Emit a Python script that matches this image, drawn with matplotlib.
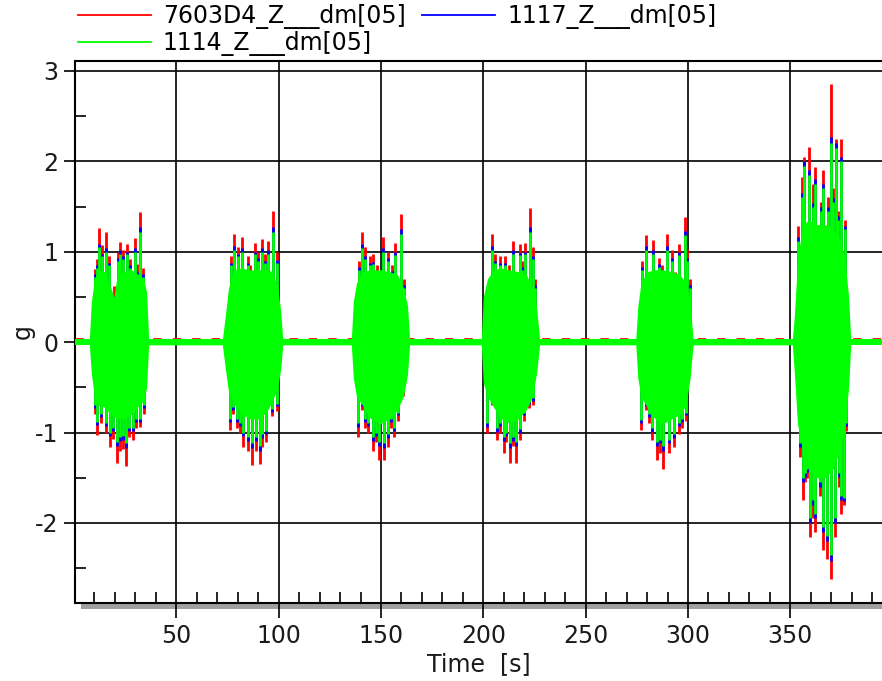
import matplotlib
matplotlib.use('Agg')
import matplotlib.pyplot as plt
from matplotlib.lines import Line2D
from matplotlib.patches import Rectangle
from matplotlib.ticker import MultipleLocator

matplotlib.rcParams['font.family'] = 'DejaVu Sans'
matplotlib.rcParams['axes.unicode_minus'] = False

labels = ['7603D4_Z___dm[05]', '1117_Z___dm[05]', '1114_Z___dm[05]']
colors = ['#ff0000', '#0000ff', '#00ff00']

# quiet part between the bursts (small noise around zero)
quiet_t = [0.5, 395.0]
quiet_amp = 0.03

# dense body of each burst (envelope of the green trace)
body_t = [7.5, 8.5, 10, 12, 15, 18, 19.5, 21, 24, 28, 31, 34, 35.5, 36.5,
          72.5, 74, 75.5, 78, 82, 86, 90, 94, 97, 99.5, 101, 102,
          135.5, 136.5, 138, 141, 145, 150, 154, 158, 161, 163, 164,
          199, 200, 202, 205, 209, 213, 217, 221, 224, 226, 227.5,
          274.5, 275.5, 277, 280, 284, 288, 292, 296, 299, 301, 302.5,
          351, 352, 353.5, 356, 359, 363, 367, 371, 374, 376.5, 378.5, 379.5]
body_hi = [0.03, 0.45, 0.7, 0.8, 0.78, 0.6, 0.5, 0.72, 0.78, 0.8, 0.75, 0.7, 0.55, 0.03,
           0.03, 0.3, 0.6, 0.8, 0.82, 0.8, 0.8, 0.8, 0.78, 0.6, 0.35, 0.03,
           0.03, 0.45, 0.65, 0.78, 0.8, 0.8, 0.78, 0.75, 0.6, 0.4, 0.03,
           0.03, 0.5, 0.7, 0.8, 0.82, 0.8, 0.78, 0.75, 0.6, 0.4, 0.03,
           0.03, 0.4, 0.65, 0.78, 0.8, 0.8, 0.78, 0.75, 0.65, 0.45, 0.03,
           0.03, 0.3, 0.9, 1.3, 1.35, 1.3, 1.3, 1.25, 1.15, 0.95, 0.5, 0.03]
body_lo = [-0.03, -0.35, -0.6, -0.7, -0.72, -0.8, -0.82, -0.85, -0.85, -0.8, -0.72, -0.65, -0.5, -0.03,
           -0.03, -0.3, -0.55, -0.68, -0.8, -0.85, -0.85, -0.78, -0.65, -0.5, -0.3, -0.03,
           -0.03, -0.4, -0.6, -0.7, -0.85, -0.9, -0.85, -0.75, -0.6, -0.35, -0.03,
           -0.03, -0.45, -0.6, -0.72, -0.85, -0.9, -0.85, -0.75, -0.6, -0.35, -0.03,
           -0.03, -0.4, -0.6, -0.72, -0.85, -0.9, -0.85, -0.8, -0.7, -0.4, -0.03,
           -0.03, -0.35, -0.9, -1.2, -1.4, -1.5, -1.5, -1.4, -1.2, -0.95, -0.5, -0.03]

# positive peaks of the three channels
up_t = [10.3, 11.1, 12.4, 13.5, 15.7, 17.0, 19.6, 21.5, 22.6, 24.1, 26.1, 27.5, 29.6, 31.0, 32.4, 33.8,
        76.5, 78.3, 80.0, 82.0, 85.0, 86.0, 88.6, 90.0, 92.1, 93.5, 95.0, 97.2, 99.3,
        139.1, 140.7, 142.3, 144.5, 146.3, 148.2, 150.9, 153.6, 155.2, 157.0, 159.8, 161.4,
        204.2, 205.8, 208.3, 210.7, 212.4, 214.5, 217.8, 219.0, 220.5, 222.9, 224.2, 225.4,
        277.5, 279.5, 282.8, 285.7, 287.3, 289.7, 292.2, 293.8, 295.8, 298.4, 299.5, 301.0,
        353.8, 355.6, 356.8, 358.9, 361.0, 362.2, 365.0, 366.2, 368.5, 369.7, 371.0, 372.5, 373.2, 374.9, 376.9]
up_red = [0.81, 0.92, 1.26, 1.07, 1.22, 0.95, 0.62, 1.0, 1.11, 1.02, 1.09, 0.92, 1.15, 0.86, 1.44, 0.82,
          0.95, 1.2, 1.05, 1.16, 0.95, 0.85, 1.1, 1.0, 1.14, 0.97, 1.12, 1.45, 1.0,
          0.9, 1.22, 1.05, 0.95, 0.98, 0.85, 1.16, 1.0, 0.85, 1.1, 1.42, 0.7,
          1.2, 0.98, 0.95, 0.95, 0.85, 1.12, 1.08, 0.9, 1.1, 1.48, 1.05, 0.7,
          0.9, 1.18, 1.13, 0.93, 0.85, 1.2, 1.02, 0.78, 1.08, 1.38, 1.03, 0.7,
          1.28, 1.83, 2.05, 2.16, 1.75, 1.94, 1.55, 1.9, 1.6, 2.86, 1.7, 2.25, 1.45, 2.25, 1.35]
up_blue = [0.75, 0.85, 1.09, 0.98, 1.04, 0.88, 0.51, 0.93, 1.02, 0.95, 1.0, 0.85, 1.04, 0.78, 1.27, 0.75,
           0.88, 1.06, 0.98, 1.04, 0.88, 0.78, 1.0, 0.93, 1.04, 0.9, 1.02, 1.27, 0.91,
           0.83, 1.08, 0.95, 0.88, 0.89, 0.78, 1.04, 0.93, 0.79, 1.0, 1.25, 0.63,
           1.06, 0.9, 0.88, 0.88, 0.79, 1.02, 0.99, 0.83, 1.0, 1.27, 0.95, 0.63,
           0.83, 1.06, 1.02, 0.86, 0.79, 1.06, 0.93, 0.73, 1.0, 1.23, 0.93, 0.63,
           1.16, 1.65, 2.0, 1.9, 1.54, 1.8, 1.49, 1.75, 1.49, 2.27, 1.59, 2.2, 1.39, 2.05, 1.29]
up_green = [0.72, 0.82, 1.05, 0.95, 1.0, 0.85, 0.48, 0.9, 0.98, 0.92, 0.97, 0.82, 1.0, 0.75, 1.22, 0.72,
            0.85, 1.02, 0.95, 1.0, 0.85, 0.75, 0.97, 0.9, 1.0, 0.87, 0.98, 1.22, 0.88,
            0.8, 1.04, 0.92, 0.85, 0.86, 0.75, 1.0, 0.9, 0.76, 0.96, 1.2, 0.6,
            1.02, 0.87, 0.85, 0.85, 0.76, 0.98, 0.96, 0.8, 0.97, 1.22, 0.92, 0.6,
            0.8, 1.02, 0.98, 0.83, 0.76, 1.02, 0.9, 0.7, 0.96, 1.18, 0.9, 0.6,
            1.12, 1.6, 1.95, 1.85, 1.5, 1.75, 1.45, 1.7, 1.45, 2.2, 1.55, 2.15, 1.35, 2.0, 1.25]

# negative peaks of the three channels
dn_t = [10.3, 11.1, 13.0, 15.8, 17.7, 19.3, 20.9, 22.5, 23.8, 25.5, 27.0, 28.7, 30.5, 32.4, 34.0,
        76.4, 77.9, 79.5, 81.1, 82.8, 84.8, 86.9, 88.8, 90.7, 92.0, 93.8, 96.6, 99.0,
        139.0, 140.6, 142.2, 143.8, 146.3, 147.7, 149.2, 151.5, 153.4, 155.0, 156.5, 158.2, 160.6,
        201.7, 204.2, 206.7, 208.3, 209.9, 211.3, 212.8, 214.5, 216.1, 218.0, 219.7, 222.1, 224.2,
        277.2, 279.5, 280.8, 282.4, 284.8, 286.4, 288.0, 290.5, 293.4, 295.4, 297.0, 299.0,
        354.5, 356.2, 357.0, 358.2, 359.8, 361.0, 362.2, 364.6, 366.2, 367.8, 369.7, 372.0, 373.6, 375.0, 376.1, 377.4]
dn_red = [-0.79, -1.03, -0.9, -1.0, -1.16, -1.07, -1.34, -1.2, -1.18, -1.37, -1.05, -1.08, -0.95, -0.94, -0.8,
          -0.97, -0.8, -0.95, -1.0, -1.16, -1.2, -1.36, -1.2, -1.35, -1.16, -1.1, -0.82, -0.76,
          -1.05, -0.75, -0.95, -1.0, -1.2, -1.1, -1.3, -1.3, -1.16, -0.95, -1.05, -0.87, -0.6,
          -1.01, -0.7, -1.08, -1.0, -1.23, -1.1, -1.34, -1.15, -1.34, -1.08, -0.87, -0.73, -0.7,
          -0.97, -0.75, -0.9, -1.08, -1.3, -1.23, -1.4, -1.23, -1.16, -1.02, -0.95, -0.87,
          -1.27, -1.75, -1.55, -1.5, -2.16, -1.95, -2.1, -1.7, -2.3, -2.4, -2.62, -2.16, -1.6, -1.9, -1.8, -0.98]
dn_blue = [-0.73, -0.92, -0.83, -0.93, -1.04, -0.98, -1.15, -1.09, -1.08, -1.17, -0.98, -0.98, -0.88, -0.88, -0.73,
           -0.88, -0.75, -0.88, -0.93, -1.04, -1.09, -1.17, -1.09, -1.2, -1.06, -1.02, -0.77, -0.71,
           -0.94, -0.71, -0.88, -0.93, -1.09, -1.04, -1.15, -1.17, -1.06, -0.88, -0.98, -0.81, -0.53,
           -0.94, -0.65, -0.99, -0.93, -1.09, -1.04, -1.17, -1.09, -1.15, -1.0, -0.81, -0.69, -0.65,
           -0.89, -0.71, -0.83, -0.99, -1.15, -1.12, -1.2, -1.12, -1.06, -0.93, -0.88, -0.81,
           -1.16, -1.55, -1.49, -1.44, -2.0, -1.8, -1.95, -1.6, -2.1, -2.2, -2.42, -2.0, -1.49, -1.75, -1.76, -0.93]
dn_green = [-0.7, -0.88, -0.8, -0.9, -1.0, -0.95, -1.1, -1.05, -1.04, -1.12, -0.95, -0.95, -0.85, -0.85, -0.7,
            -0.85, -0.72, -0.85, -0.9, -1.0, -1.05, -1.12, -1.05, -1.15, -1.02, -0.98, -0.74, -0.68,
            -0.9, -0.68, -0.85, -0.9, -1.05, -1.0, -1.1, -1.12, -1.02, -0.85, -0.95, -0.78, -0.5,
            -0.9, -0.62, -0.95, -0.9, -1.05, -1.0, -1.12, -1.05, -1.1, -0.96, -0.78, -0.66, -0.62,
            -0.86, -0.68, -0.8, -0.95, -1.1, -1.08, -1.15, -1.08, -1.02, -0.9, -0.85, -0.78,
            -1.12, -1.5, -1.45, -1.4, -1.95, -1.75, -1.9, -1.55, -2.05, -2.15, -2.35, -1.95, -1.45, -1.7, -1.72, -0.9]

fig = plt.figure(figsize=(8.82, 6.81), dpi=100)
ax = fig.add_axes([75 / 882, 1 - 603 / 681, 1 - 75 / 882, (603 - 61) / 681])

# baseline noise
ax.plot(quiet_t, [quiet_amp + 0.01] * 2, color=colors[0], lw=2, ls=(0, (3, 4)), zorder=2)
ax.fill_between(quiet_t, [-quiet_amp] * 2, [quiet_amp] * 2, color=colors[2], lw=0, zorder=3)

# peaks: red under blue under green
ax.vlines(up_t, 0, up_red, colors=colors[0], lw=2, zorder=2)
ax.vlines(dn_t, dn_red, 0, colors=colors[0], lw=2, zorder=2)
ax.vlines(up_t, 0, up_blue, colors=colors[1], lw=2, zorder=2.5)
ax.vlines(dn_t, dn_blue, 0, colors=colors[1], lw=2, zorder=2.5)
ax.vlines(up_t, 0, up_green, colors=colors[2], lw=2, zorder=3)
ax.vlines(dn_t, dn_green, 0, colors=colors[2], lw=2, zorder=3)
ax.fill_between(body_t, body_lo, body_hi, color=colors[2], lw=0, zorder=3)

ax.set_xlim(0.5, 394.8)
ax.set_ylim(-2.886, 3.11)
ax.xaxis.set_major_locator(MultipleLocator(50))
ax.xaxis.set_minor_locator(MultipleLocator(10))
ax.yaxis.set_major_locator(MultipleLocator(1))
ax.yaxis.set_minor_locator(MultipleLocator(0.5))
ax.grid(True, which='major', color='black', lw=1.2, zorder=1)
ax.set_axisbelow(True)

ax.tick_params(which='major', direction='out', width=1.2, labelsize=17, colors='black', labelcolor='#1a1a1a')
ax.tick_params(axis='x', which='major', length=11, pad=4)
ax.tick_params(axis='y', which='major', length=8, pad=4)
ax.tick_params(which='minor', direction='in', width=1.2, length=8)
for s in ['left', 'bottom', 'top']:
    ax.spines[s].set_linewidth(1.5)
ax.spines['right'].set_visible(False)

ax.set_xlabel('Time  [s]', fontsize=17, color='#1a1a1a', labelpad=3)
ax.set_ylabel('g', fontsize=17, color='#1a1a1a', labelpad=0)

# shadow under the x axis
fig.add_artist(Rectangle((81 / 882, 1 - 609 / 681), 1, 5 / 681, transform=fig.transFigure,
                         color='#a0a0a0', lw=0, zorder=0))

handles = [Line2D([], [], color=colors[0], lw=1.3),
           Line2D([], [], color=colors[2], lw=1.3),
           Line2D([], [], color=colors[1], lw=1.3)]
fig.legend(handles, [labels[0], labels[2], labels[1]], ncol=2, loc='upper left',
           bbox_to_anchor=(0.072, 1.015), frameon=False, fontsize=17,
           handlelength=3.1, handletextpad=0.5, columnspacing=0.7,
           labelspacing=0.1, borderpad=0.1)

fig.savefig('out.png', dpi=100)
